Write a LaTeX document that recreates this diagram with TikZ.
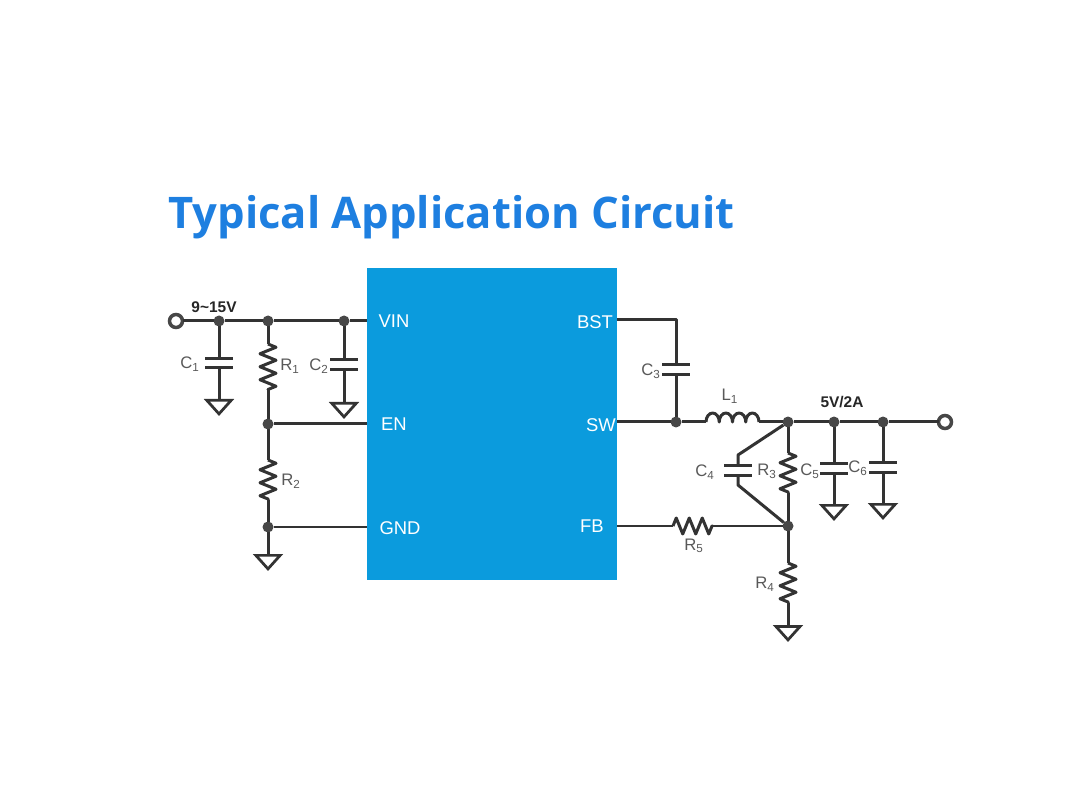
\documentclass[tikz,border=0pt]{standalone}
\usepackage{fontspec}
\setmainfont{Liberation Sans}
\newfontfamily\titlefont{Open Sans}
\usepackage{xcolor}
\usetikzlibrary{shapes.geometric,decorations.pathmorphing}
\definecolor{chipblue}{HTML}{0B9BDD}
\definecolor{titleblue}{HTML}{1E7FE0}
\definecolor{wirecol}{HTML}{333333}
\tikzstyle{wire} = [line width=0.06cm,wirecol,line join=round]
\tikzstyle{res} = [wire,decorate,decoration={zigzag,segment length=0.26cm,amplitude=0.16cm}]
\tikzstyle{dot} = [circle,fill=wirecol!90,inner sep=0,outer sep=0,minimum size=0.22cm]
\tikzstyle{term} = [circle,draw=wirecol!90,line width=0.07cm,fill=white,inner sep=0,outer sep=0,minimum size=0.26cm]
\tikzstyle{gnd} = [isosceles triangle,isosceles triangle apex angle=84,shape border rotate=-90,draw=wirecol,line width=0.055cm,inner sep=0,minimum height=0.27cm,anchor=lower side]
\tikzstyle{capv} = [inner sep=0,minimum width=0.54cm,minimum height=0.18cm,append after command={
  (\tikzlastnode.north west) edge[wire] (\tikzlastnode.north east)
  (\tikzlastnode.south west) edge[wire] (\tikzlastnode.south east)}]
\tikzstyle{pinlab} = [text=white,font=\fontsize{10.5}{12}\selectfont,inner sep=0]
\tikzstyle{lab} = [text=black!65,font=\fontsize{9.5}{11}\selectfont,inner sep=0]
\tikzstyle{vlab} = [text=black!85,font=\bfseries\fontsize{8.8}{10}\selectfont,inner sep=0]

\begin{document}
\begin{tikzpicture}[x=0.02cm,y=-0.02cm]
    \useasboundingbox (0,0) rectangle (1072,800);
    \node[text=titleblue,font=\titlefont\bfseries\fontsize{24.8}{30}\selectfont,inner sep=0,anchor=base west] (title) at (168,229) {Typical Application Circuit};

    \node[fill=chipblue,inner sep=0,minimum width=5cm,minimum height=6.24cm] (chip) at (492,424) {};
    \coordinate (pVIN) at (367,321);
    \coordinate (pEN) at (367,424);
    \coordinate (pGND) at (367,527);
    \coordinate (pBST) at (617,320);
    \coordinate (pSW) at (617,422);
    \coordinate (pFB) at (617,526);
    \node[pinlab] (lVIN) at (394,321) {VIN};
    \node[pinlab] (lEN) at (394,424) {EN};
    \node[pinlab] (lGND) at (400,528) {GND};
    \node[pinlab] (lBST) at (595,322) {BST};
    \node[pinlab] (lSW) at (601,425) {SW};
    \node[pinlab] (lFB) at (592,526) {FB};

    % input side
    \node[term] (vin) at (176,321) {};
    \node[dot] (j1) at (219,321) {};
    \node[dot] (j2) at (268,321) {};
    \node[dot] (j3) at (344,321) {};
    \node[dot] (j4) at (268,424) {};
    \node[dot] (j5) at (268,527) {};
    \node[capv] (C1) at (219,363) {};
    \node[capv] (C2) at (344,364.5) {};
    \node[gnd] (g1) at (219,399) {};
    \node[gnd] (g2) at (344,402) {};
    \node[gnd] (g3) at (268,554) {};
    \coordinate (R1a) at (268,344);
    \coordinate (R1b) at (268,390);
    \coordinate (R2a) at (268,460);
    \coordinate (R2b) at (268,500);

    \draw[wire] (vin) -- (j1) -- (j2) -- (j3) -- (pVIN);
    \draw[wire] (j1) -- (C1.north);
    \draw[wire] (C1.south) -- (g1.lower side);
    \draw[wire] (j3) -- (C2.north);
    \draw[wire] (C2.south) -- (g2.lower side);
    \draw[wire] (j2) -- (R1a);
    \draw[res] (R1a) -- (R1b);
    \draw[wire] (R1b) -- (j4) -- (R2a);
    \draw[res] (R2a) -- (R2b);
    \draw[wire] (R2b) -- (j5) -- (g3.lower side);
    \draw[wire] (j4) -- (pEN);
    \draw[wire] (j5) -- (pGND);

    % output side
    \node[term] (vout) at (945,422) {};
    \node[dot] (j6) at (676,422) {};
    \node[dot] (j7) at (788,422) {};
    \node[dot] (j8) at (834,422) {};
    \node[dot] (j9) at (883,422) {};
    \node[dot] (j10) at (788,526) {};
    \node[capv] (C3) at (676,369.5) {};
    \node[capv] (C4) at (738,470.5) {};
    \node[capv] (C5) at (834,468.5) {};
    \node[capv] (C6) at (883,467.5) {};
    \node[gnd] (g4) at (834,504) {};
    \node[gnd] (g5) at (883,503) {};
    \node[gnd] (g6) at (788,625) {};
    \coordinate (L1a) at (706,422);
    \coordinate (L1b) at (759,422);
    \coordinate (R3a) at (788,453);
    \coordinate (R3b) at (788,493);
    \coordinate (R4a) at (788,563);
    \coordinate (R4b) at (788,603);
    \coordinate (R5a) at (673,526);
    \coordinate (R5b) at (713,526);
    \coordinate (c4t) at (738,455);
    \coordinate (c4b) at (738,485);

    \draw[wire] (pBST) -| (C3.north);
    \draw[wire] (C3.south) -- (j6);
    \draw[wire] (pSW) -- (j6) -- (L1a);
    \draw[wire] (L1a) \foreach \i in {1,...,4} {arc[start angle=180,end angle=360,x radius=6.625,y radius=9]};
    \draw[wire] (L1b) -- (j7) -- (j8) -- (j9) -- (vout);
    \draw[wire] (j7) -- (c4t) -- (C4.north);
    \draw[wire] (C4.south) -- (c4b) -- (j10);
    \draw[wire] (j7) -- (R3a);
    \draw[res] (R3a) -- (R3b);
    \draw[wire] (R3b) -- (j10) -- (R4a);
    \draw[res] (R4a) -- (R4b);
    \draw[wire] (R4b) -- (g6.lower side);
    \draw[wire] (pFB) -- (R5a);
    \draw[res] (R5a) -- (R5b);
    \draw[wire] (R5b) -- (j10);
    \draw[wire] (j8) -- (C5.north);
    \draw[wire] (C5.south) -- (g4.lower side);
    \draw[wire] (j9) -- (C6.north);
    \draw[wire] (C6.south) -- (g5.lower side);

    \node[vlab] (lvin) at (214,307) {9\textasciitilde15V};
    \node[vlab] (lvout) at (842,402) {5V/2A};
    \node[lab] (lC1) at (190,364) {C\textsubscript{1}};
    \node[lab] (lR1) at (290,366) {R\textsubscript{1}};
    \node[lab] (lC2) at (319,366) {C\textsubscript{2}};
    \node[lab] (lR2) at (291,481) {R\textsubscript{2}};
    \node[lab] (lC3) at (651,371) {C\textsubscript{3}};
    \node[lab] (lL1) at (730,396) {L\textsubscript{1}};
    \node[lab] (lC4) at (705,472) {C\textsubscript{4}};
    \node[lab] (lR3) at (767,471) {R\textsubscript{3}};
    \node[lab] (lC5) at (810,471) {C\textsubscript{5}};
    \node[lab] (lC6) at (858,468) {C\textsubscript{6}};
    \node[lab] (lR5) at (694,546) {R\textsubscript{5}};
    \node[lab] (lR4) at (765,584) {R\textsubscript{4}};
\end{tikzpicture}
\end{document}
